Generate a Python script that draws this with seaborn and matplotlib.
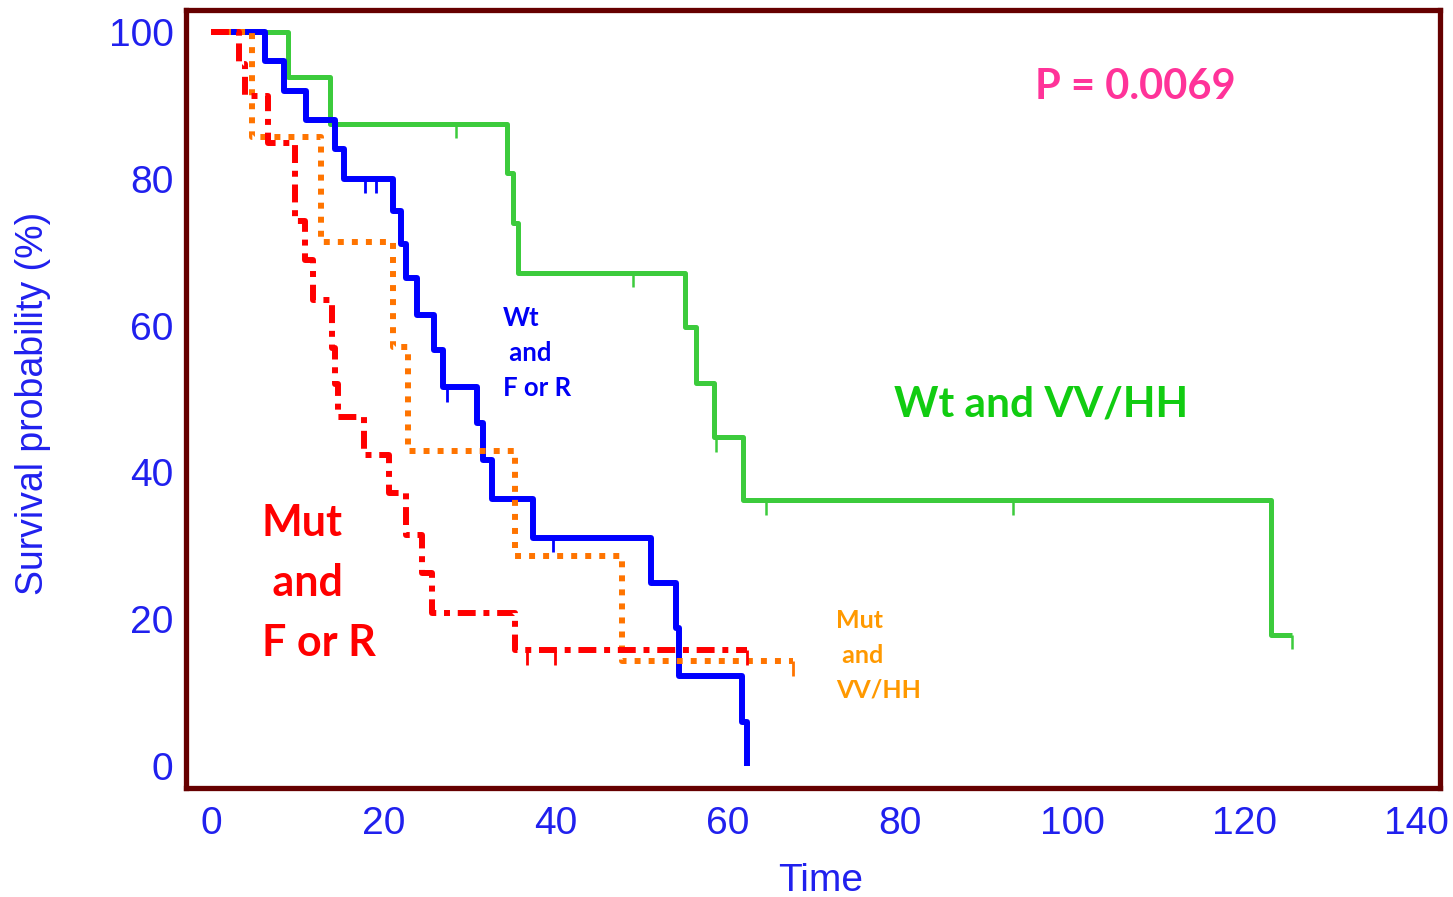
import numpy as np
import pandas as pd
import matplotlib
matplotlib.use("Agg")
import matplotlib.pyplot as plt
import seaborn as sns

# ---------------- data ----------------
# Wt and VV/HH (green)
green_t = [0, 9.0, 13.8, 34.4, 35.1, 35.6, 55.1, 56.3, 58.4, 61.8, 123.1, 125.5]
green_s = [100, 93.8, 87.5, 80.8, 74.0, 67.2, 59.8, 52.2, 44.8, 36.2, 17.9, 17.9]
green_cens = [28.5, 49.0, 58.6, 64.5, 93.1, 125.5]

# Wt and F or R (blue)
blue_t = [0, 6.3, 8.5, 11.0, 14.4, 15.4, 21.1, 22.1, 22.6, 23.9, 25.9, 26.9,
          30.9, 31.6, 32.6, 37.4, 51.1, 54.0, 54.3, 61.7, 62.2]
blue_s = [100, 96.0, 92.0, 88.0, 84.0, 80.0, 75.6, 71.1, 66.5, 61.4, 56.7, 51.6,
          46.7, 41.7, 36.4, 31.1, 24.9, 18.8, 12.3, 6.0, 0.0]
blue_cens = [17.9, 19.2, 27.4, 39.7]

# Mut and F or R (red)
red_t = [0, 3.3, 4.0, 6.6, 9.8, 10.9, 11.8, 14.1, 14.4, 14.7, 17.8, 20.7,
         22.6, 24.5, 25.7, 35.3, 62.2]
red_s = [100, 95.7, 91.3, 84.9, 74.2, 69.0, 63.5, 57.0, 52.0, 47.5, 42.4, 37.2,
         31.5, 26.3, 20.9, 15.8, 15.8]
red_cens = [36.7, 40.0, 62.2]

# Mut and VV/HH (orange)
orange_t = [0, 4.8, 12.8, 21.1, 22.9, 35.3, 47.7, 67.6]
orange_s = [100, 85.7, 71.4, 57.1, 42.9, 28.6, 14.3, 14.3]
orange_cens = [67.6]

x_ticks = [0, 20, 40, 60, 80, 100, 120, 140]
y_ticks = [0, 20, 40, 60, 80, 100]
x_label = "Time"
y_label = "Survival probability (%)"
p_text = "P = 0.0069"

# ---------------- style ----------------
sns.set_style("white")
plt.rcParams["font.family"] = ["Liberation Sans", "DejaVu Sans"]

FRAME = "#660000"
TICKC = "#2020EE"
C_GREEN = "#3CCB3C"
C_BLUE = "#0000FF"
C_RED = "#FF0000"
C_ORANGE = "#FF7400"

fig = plt.figure(figsize=(14.53, 8.97), dpi=100)
ax = fig.add_axes([0.128, 0.1215, 0.863, 0.8674])


def step_value(ts, ss, t):
    idx = np.searchsorted(np.asarray(ts), t, side="right") - 1
    return np.asarray(ss)[idx]


def draw_curve(ts, ss, cens, color, lw, ls, tick_lw, tick_len=2.0, z=2):
    df = pd.DataFrame({"t": ts, "s": ss})
    sns.lineplot(data=df, x="t", y="s", ax=ax, color=color, linewidth=lw,
                 drawstyle="steps-post", estimator=None, sort=False,
                 linestyle=ls, dash_capstyle="butt", solid_capstyle="butt",
                 zorder=z)
    cv = np.array([step_value(ts, ss, c) for c in cens])
    ax.vlines(cens, cv - tick_len, cv, colors=color, linewidth=tick_lw, zorder=z)


draw_curve(green_t, green_s, green_cens, C_GREEN, 3.6, "-", 1.8, z=2)
draw_curve(blue_t, blue_s, blue_cens, C_BLUE, 4.3, "-", 2.0, z=3)
draw_curve(orange_t, orange_s, orange_cens, C_ORANGE, 4.3, (0, (1, 1.35)), 2.0, z=4)
draw_curve(red_t, red_s, red_cens, C_RED, 4.3, (0, (3, 1.3, 1, 1.3)), 2.0, z=5)

# ---------------- axes ----------------
ax.set_xlim(-2.9, 142.7)
ax.set_ylim(-3.0, 103.0)
ax.set_xticks(x_ticks)
ax.set_xticks([10, 30, 50, 70, 90, 110, 130], minor=True)
ax.set_yticks(y_ticks)
ax.set_yticks([10, 30, 50, 70, 90], minor=True)
ax.set_xticklabels([str(v) for v in x_ticks])
ax.set_yticklabels([str(v) for v in y_ticks])

for sp in ax.spines.values():
    sp.set_visible(True)
    sp.set_color(FRAME)
    sp.set_linewidth(3.8)

ax.tick_params(axis="both", which="both", direction="in", color=FRAME,
               width=2.2, labelcolor=TICKC, labelsize=28)
ax.tick_params(axis="y", which="major", length=18, pad=9)
ax.tick_params(axis="y", which="minor", length=9.5)
ax.tick_params(axis="x", which="major", length=13, pad=13)
ax.tick_params(axis="x", which="minor", length=6.5)

ax.set_xlabel(x_label, fontsize=28, color=TICKC, va="center")
ax.set_ylabel(y_label, fontsize=27, color=TICKC)
ax.xaxis.set_label_coords(0.506, -0.119)
ax.yaxis.set_label_coords(-0.108, 0.495)

# ---------------- annotations ----------------
LAB = ["Lato", "DejaVu Sans"]
ax.text(107.3, 92.5, p_text, color="#FF3399", fontsize=30, fontweight="bold",
        family=LAB, ha="center", va="center")
ax.text(96.4, 49.3, "Wt and VV/HH", color="#11CC11", fontsize=30.5,
        fontweight="bold", family=LAB, ha="center", va="center")
ax.text(33.9, 56.3, "Wt\n and\nF or R", color="#0000F5", fontsize=18.5,
        fontweight="bold", family=LAB, ha="left", va="center", linespacing=1.55)
ax.text(5.9, 24.9, "Mut\n and\nF or R", color="#FF0000", fontsize=31,
        fontweight="bold", family=LAB, ha="left", va="center", linespacing=1.6)
ax.text(72.6, 15.1, "Mut\n and\nVV/HH", color="#FF9900", fontsize=18,
        fontweight="bold", family=LAB, ha="left", va="center", linespacing=1.6)

fig.savefig("out.png", dpi=100)
